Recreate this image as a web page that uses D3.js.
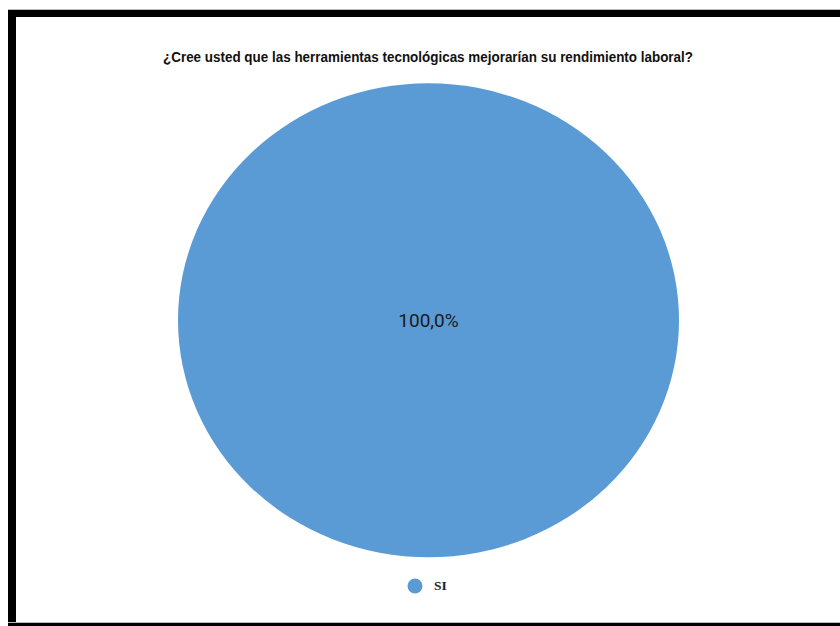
<!DOCTYPE html>
<html><head><meta charset="utf-8">
<script src="https://cdn.jsdelivr.net/npm/d3@7"></script>
<style>html,body{margin:0;padding:0;background:#fff;}svg{display:block;}</style>
</head><body>
<svg id="c" width="840" height="626"></svg>
<script>
const categories = ["SI"];
const values = [100];
const colors = ["#5B9BD5"];
const title = "¿Cree usted que las herramientas tecnológicas mejorarían su rendimiento laboral?";

const svg = d3.select("#c");
// frame
svg.append("rect").attr("x",8).attr("y",9).attr("width",832).attr("height",1).attr("fill","#bbb");
svg.append("rect").attr("x",8).attr("y",10).attr("width",832).attr("height",7).attr("fill","#000");
svg.append("rect").attr("x",8).attr("y",10).attr("width",8).attr("height",616).attr("fill","#000");
svg.append("rect").attr("x",8).attr("y",622).attr("width",832).attr("height",1).attr("fill","#bbb");
svg.append("rect").attr("x",8).attr("y",623).attr("width",832).attr("height",3).attr("fill","#000");

svg.append("text").attr("x",163).attr("y",62)
  .attr("textLength",530).attr("lengthAdjust","spacingAndGlyphs")
  .attr("font-family","'Liberation Sans Narrow','Arial Narrow','Liberation Sans',sans-serif").attr("font-weight","bold")
  .attr("font-size",14.5).attr("fill","#111").text(title);

const cx = 428.5, cy = 320.3, rx = 250.5, ry = 237;
const total = d3.sum(values);
const pie = d3.pie().sort(null)(values);
const arc = d3.arc().innerRadius(0).outerRadius(rx);
const g = svg.append("g").attr("transform",`translate(${cx},${cy}) scale(1,${ry/rx})`);
g.selectAll("path").data(pie).join("path").attr("d",arc).attr("fill",(d,i)=>colors[i]);

const fmt = v => d3.format(".1f")(v).replace(".",",") + "%";
svg.selectAll("text.lbl").data(pie).join("text").attr("class","lbl")
  .attr("x", d => pie.length===1 ? cx : cx + arc.centroid(d)[0])
  .attr("y", d => (pie.length===1 ? cy : cy + arc.centroid(d)[1]*ry/rx) + 7)
  .attr("text-anchor","middle").attr("font-family","Roboto, sans-serif").attr("font-size",19)
  .attr("fill","#1a1a1a").text(d => fmt(d.value/total*100));

const lg = svg.append("g");
categories.forEach((c,i)=>{
  lg.append("circle").attr("cx",415).attr("cy",586).attr("r",7.5).attr("fill",colors[i]);
  lg.append("text").attr("x",434).attr("y",590).attr("font-family","'Liberation Serif',serif")
    .attr("font-weight","bold").attr("font-size",13.5).attr("fill","#222").text(c);
});
</script>
</body></html>
